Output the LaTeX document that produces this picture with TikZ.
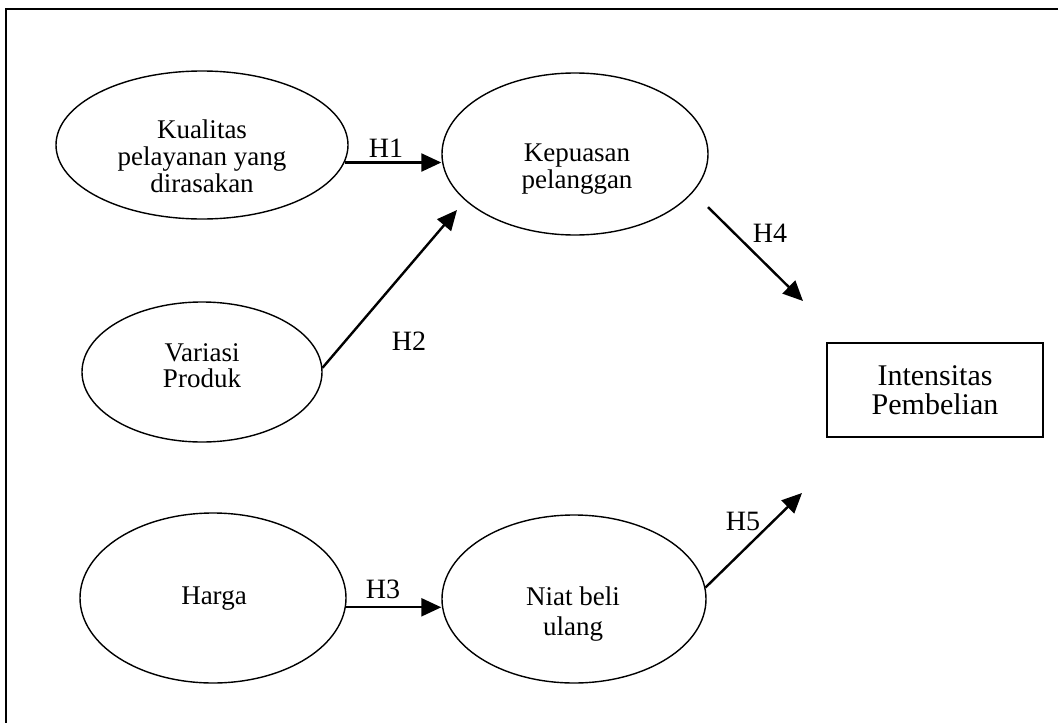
\documentclass[tikz,border=0pt]{standalone}
\usepackage{fontspec}
\setmainfont{Liberation Serif}
\usetikzlibrary{shapes.geometric,arrows.meta}
\begin{document}
\begin{tikzpicture}[x=1pt,y=-1pt,
  oval/.style={ellipse,draw,line width=1.4pt,inner sep=0pt},
  lbl/.style={font=\fontsize{27}{27}\selectfont,align=center,inner sep=0pt},
  hyp/.style={font=\fontsize{28}{28}\selectfont,inner sep=0pt},
  arr/.style={line width=2.4pt,-{Triangle[length=20pt,width=18pt]}},
  outbox/.style={draw,line width=1.3pt,minimum width=216pt,minimum height=94pt,inner sep=0pt,
    align=center,font=\fontsize{30}{29}\selectfont}]
\useasboundingbox (0,0) rectangle (1058,723);
% frame
\draw[line width=2.5pt] (6,730) -- (6,9) -- (1062,9);

% ovals
\node[oval,minimum width=292pt,minimum height=148pt] (e1) at (202,145) {};
\node[oval,minimum width=266pt,minimum height=162pt] (e2) at (575,154) {};
\node[oval,minimum width=240pt,minimum height=140pt] (e3) at (202,372) {};
\node[oval,minimum width=266pt,minimum height=170pt] (e4) at (213,598) {};
\node[oval,minimum width=264pt,minimum height=168pt] (e5) at (574,599) {};
\node[outbox] (ip) at (935,390) {Intensitas\\Pembelian};

% texts
\node[lbl] (t1) at (202,156) {Kualitas\\pelayanan yang\\dirasakan};
\node[lbl] (t2) at (577,169) {Kepuasan\\pelanggan};
\node[lbl,font=\fontsize{27}{26}\selectfont] (t3) at (202,366) {Variasi\\Produk};
\node[lbl] (t4) at (214,599) {Harga};
\node[lbl,font=\fontsize{27}{30}\selectfont] (t5) at (573,614) {Niat beli\\ulang};

% hypothesis labels
\node[hyp] (h1) at (386,148) {H1};
\node[hyp] (h2) at (409,341) {H2};
\node[hyp] (h3) at (383,589) {H3};
\node[hyp] (h4) at (770,233) {H4};
\node[hyp] (h5) at (743,521) {H5};

% free arrow ends
\coordinate (h2tip) at (457,210);
\coordinate (h4tip) at (803,301);
\coordinate (h5tip) at (802,493);

% connectors
\draw[arr] (e1.-7) -- (e2.west |- e1.-7);
\draw[arr] (e3.2) -- (h2tip);
\draw[arr] (e4.-4) -- (e5.west |- e4.-4);
\draw[arr,shorten <=21pt] (e2.-18) -- (h4tip);
\draw[arr] (e5.5) -- (h5tip);
\end{tikzpicture}
\end{document}
